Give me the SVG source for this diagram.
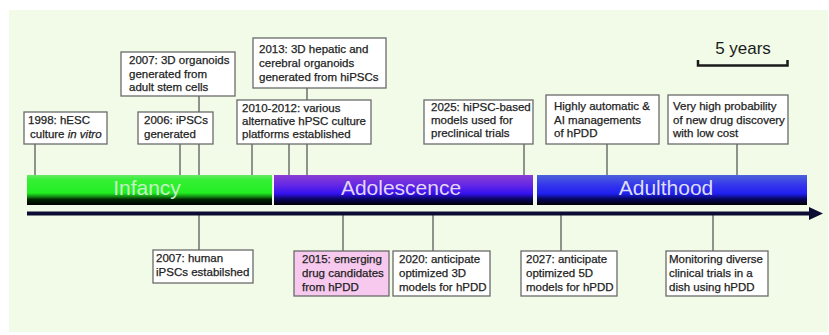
<svg xmlns="http://www.w3.org/2000/svg" width="829" height="335" viewBox="0 0 829 335">
<defs>
<style>
.box{fill:#ffffff;stroke:#6a6a6a;stroke-width:1.3}
.pink{fill:#f7c9ee;stroke:#6a6a6a;stroke-width:1.3}
.t{font-family:"Liberation Sans",Arial,sans-serif;font-size:11.5px;fill:#222;stroke:#222;stroke-width:0.25}
.bar{font-family:"Liberation Sans",Arial,sans-serif;font-size:21px;text-anchor:middle}
.con{stroke:#5a5a5a;stroke-width:1.3;fill:none}
</style>
<linearGradient id="gGreen" x1="0" y1="0" x2="0" y2="1">
<stop offset="0" stop-color="#6ae86a"/>
<stop offset="0.15" stop-color="#36f036"/>
<stop offset="0.6" stop-color="#22ee22"/>
<stop offset="0.72" stop-color="#128a12"/>
<stop offset="0.82" stop-color="#002400"/>
<stop offset="1" stop-color="#000"/>
</linearGradient>
<linearGradient id="gPurple" x1="0" y1="0" x2="0" y2="1">
<stop offset="0" stop-color="#8a3ed2"/>
<stop offset="0.35" stop-color="#6226e6"/>
<stop offset="0.62" stop-color="#3412f0"/>
<stop offset="0.8" stop-color="#0a0560"/>
<stop offset="1" stop-color="#000"/>
</linearGradient>
<linearGradient id="gBlue" x1="0" y1="0" x2="0" y2="1">
<stop offset="0" stop-color="#4c62d8"/>
<stop offset="0.35" stop-color="#3434ee"/>
<stop offset="0.62" stop-color="#2020f0"/>
<stop offset="0.8" stop-color="#06065e"/>
<stop offset="1" stop-color="#000"/>
</linearGradient>
</defs>
<rect x="0" y="0" width="829" height="335" fill="#ffffff"/>
<rect x="9" y="10" width="819" height="322" fill="#f1fbe8"/>

<g id="scale">
<text x="743" y="54" font-family="Liberation Sans,Arial,sans-serif" font-size="17" text-anchor="middle" fill="#1a1a1a">5 years</text>
<path d="M698 60 V65.5 H787.5 V60" fill="none" stroke="#1a1a1a" stroke-width="2.5"/>
</g>

<g id="connectors">
<line class="con" x1="35" y1="144" x2="35" y2="175"/>
<line class="con" x1="180" y1="144" x2="180" y2="175"/>
<line class="con" x1="199" y1="96" x2="199" y2="175"/>
<line class="con" x1="252" y1="144" x2="252" y2="175"/>
<line class="con" x1="289" y1="144" x2="289" y2="175"/>
<line class="con" x1="307" y1="88" x2="307" y2="175"/>
<line class="con" x1="524" y1="144" x2="524" y2="175"/>
<line class="con" x1="607" y1="144" x2="607" y2="175"/>
<line class="con" x1="737" y1="144" x2="737" y2="175"/>
<line class="con" x1="199" y1="215" x2="199" y2="250"/>
<line class="con" x1="343" y1="215" x2="343" y2="251"/>
<line class="con" x1="433" y1="215" x2="433" y2="251"/>
<line class="con" x1="561" y1="215" x2="561" y2="251"/>
<line class="con" x1="713" y1="215" x2="713" y2="251"/>
</g>

<g id="bars">
<g id="infancy">
<rect x="27" y="175" width="245" height="30" fill="url(#gGreen)"/>
<text class="bar" x="147" y="195" fill="#c4f2c4">Infancy</text>
</g>
<g id="adolescence">
<rect x="274" y="175" width="259" height="30" fill="url(#gPurple)"/>
<text class="bar" x="401" y="195" fill="#e2d6f2">Adolescence</text>
</g>
<g id="adulthood">
<rect x="537" y="175" width="270" height="30" fill="url(#gBlue)"/>
<text class="bar" x="666" y="195" fill="#dcdff2">Adulthood</text>
</g>
</g>

<g id="axis">
<line x1="27" y1="213.5" x2="812" y2="213.5" stroke="#0b0b33" stroke-width="4"/>
<polygon points="809,207 823,213.5 809,220" fill="#0b0b33"/>
</g>

<g id="n1998">
<rect class="box" x="24" y="112" width="83" height="32"/>
<text class="t" x="28" y="124">1998: hESC</text>
<text class="t" x="30" y="138">culture <tspan font-style="italic">in vitro</tspan></text>
</g>
<g id="n2007org">
<rect class="box" x="121" y="52" width="114" height="44"/>
<text class="t" x="129" y="64">2007: 3D organoids</text>
<text class="t" x="129" y="77.5">generated from</text>
<text class="t" x="129" y="91">adult stem cells</text>
</g>
<g id="n2006">
<rect class="box" x="138" y="112" width="75" height="32"/>
<text class="t" x="144" y="124">2006: iPSCs</text>
<text class="t" x="144" y="138">generated</text>
</g>
<g id="n2013">
<rect class="box" x="253" y="38" width="133" height="50"/>
<text class="t" x="259" y="53">2013: 3D hepatic and</text>
<text class="t" x="259" y="67">cerebral organoids</text>
<text class="t" x="259" y="81">generated from hiPSCs</text>
</g>
<g id="n2010">
<rect class="box" x="237" y="100" width="134" height="44"/>
<text class="t" x="242" y="112">2010-2012: various</text>
<text class="t" x="242" y="125">alternative hPSC culture</text>
<text class="t" x="242" y="138">platforms established</text>
</g>
<g id="n2025">
<rect class="box" x="424" y="100" width="109" height="44"/>
<text class="t" x="431" y="111">2025: hiPSC-based</text>
<text class="t" x="431" y="124">models used for</text>
<text class="t" x="431" y="137">preclinical trials</text>
</g>
<g id="nai">
<rect class="box" x="546" y="95" width="113" height="49"/>
<text class="t" x="554" y="110">Highly automatic &amp;</text>
<text class="t" x="554" y="123.5">AI managements</text>
<text class="t" x="554" y="137">of hPDD</text>
</g>
<g id="nvery">
<rect class="box" x="668" y="95" width="120" height="49"/>
<text class="t" x="673" y="110">Very high probability</text>
<text class="t" x="673" y="123.5">of new drug discovery</text>
<text class="t" x="673" y="137">with low cost</text>
</g>

<g id="n2007human">
<rect class="box" x="153" y="250" width="100" height="33"/>
<text class="t" x="156" y="262">2007: human</text>
<text class="t" x="156" y="276">iPSCs estabilshed</text>
</g>
<g id="n2015">
<rect class="pink" x="294" y="251" width="95" height="45"/>
<text class="t" x="302" y="263">2015: emerging</text>
<text class="t" x="302" y="277">drug candidates</text>
<text class="t" x="302" y="291">from hPDD</text>
</g>
<g id="n2020">
<rect class="box" x="393" y="251" width="97" height="45"/>
<text class="t" x="399" y="263">2020: anticipate</text>
<text class="t" x="399" y="277">optimized 3D</text>
<text class="t" x="399" y="291">models for hPDD</text>
</g>
<g id="n2027">
<rect class="box" x="521" y="251" width="96" height="45"/>
<text class="t" x="526" y="263">2027: anticipate</text>
<text class="t" x="526" y="277">optimized 5D</text>
<text class="t" x="526" y="291">models for hPDD</text>
</g>
<g id="nmon">
<rect class="box" x="666" y="251" width="102" height="45"/>
<text class="t" x="669" y="263">Monitoring diverse</text>
<text class="t" x="669" y="277">clinical trials in a</text>
<text class="t" x="669" y="291">dish using hPDD</text>
</g>
</svg>
